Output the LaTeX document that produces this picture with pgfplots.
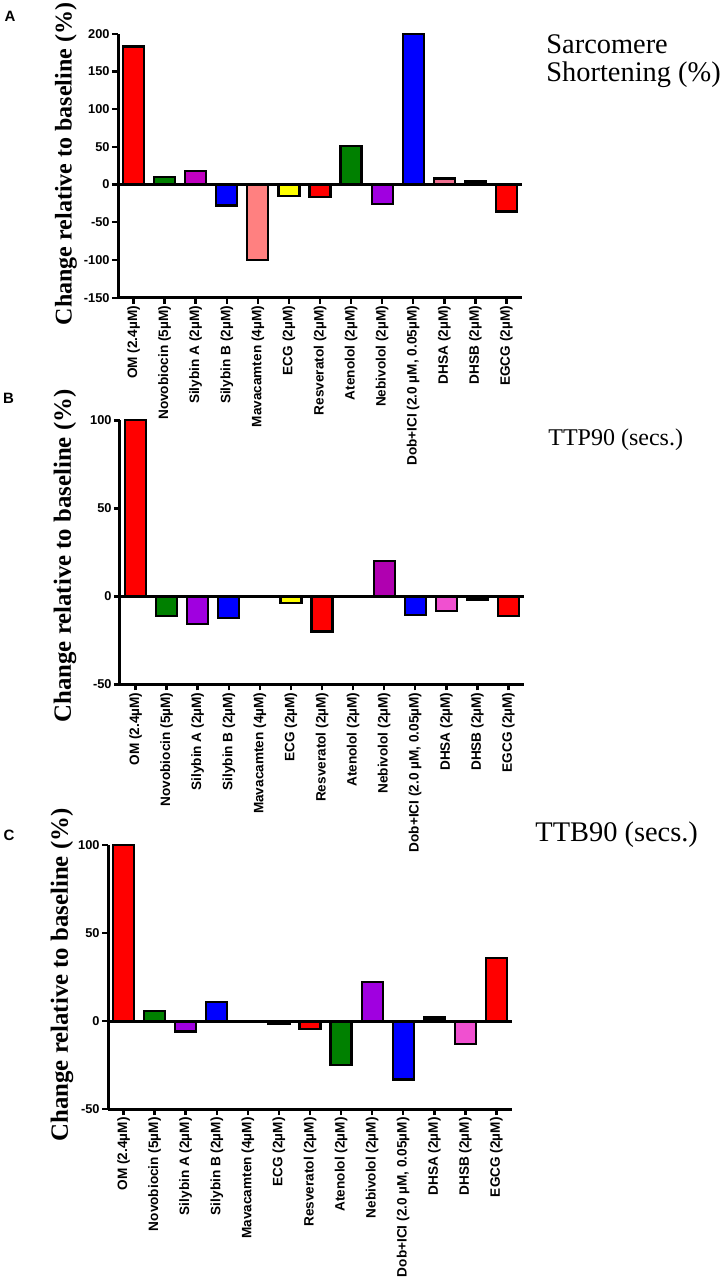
\documentclass[border=0pt]{standalone}
\usepackage{fontspec}
\setmainfont{Liberation Serif}
\setsansfont{Liberation Sans}
\usepackage{pgfplots}
\pgfplotsset{compat=1.18}

\definecolor{cred}{HTML}{FF0000}
\definecolor{cgreen}{HTML}{008000}
\definecolor{cmag}{HTML}{C000C0}
\definecolor{cviolet}{HTML}{A000E0}
\definecolor{cblue}{HTML}{0000FF}
\definecolor{csalmon}{HTML}{FF8080}
\definecolor{cyellow}{HTML}{FFFF00}
\definecolor{cpinkA}{HTML}{F07090}
\definecolor{cpink}{HTML}{F050D0}
\definecolor{cmagB}{HTML}{B000B0}

\pgfplotsset{
  panel/.style={
    scale only axis, width=202pt, height=132pt,
    axis lines*=left, axis line style={line width=1.5pt},
    xmin=-0.5, xmax=12.5, enlargelimits=false,
    xtick={0,...,12},
    xticklabels={OM (2.4µM), Novobiocin (5µM), Silybin A (2µM), Silybin B (2µM), Mavacamten (4µM), ECG (2µM), Resveratol (2µM), Atenolol (2µM), Nebivolol (2µM), {Dob+ICI (2.0 µM, 0.05µM)}, DHSA (2µM), DHSB (2µM), EGCG (2µM)},
    tick align=outside, major tick length=3pt,
    tick style={line width=1.2pt, black},
    xticklabel style={rotate=90, anchor=east, font=\sffamily\bfseries\fontsize{6.8}{8}\selectfont, inner sep=1pt},
    yticklabel style={font=\sffamily\bfseries\fontsize{6.4}{8}\selectfont, inner sep=1pt},
    clip=false,
  },
  bb/.style={ybar, bar width=10.5pt, bar shift=0pt, draw=black, line width=1.1pt, fill=#1},
  zl/.style={black, line width=1.5pt, forget plot},
}

\begin{document}
\begin{tikzpicture}
\useasboundingbox (0,0) rectangle (363pt,-643pt);

% Panel A
\begin{axis}[panel, at={(59pt,-148.85pt)}, anchor=south west,
  ymin=-150, ymax=200, ytick={-150,-100,-50,0,50,100,150,200},
  yticklabels={-150,-100,-50,0,50,100,150,200}]
\addplot[bb=cred] coordinates {(0,183)};
\addplot[bb=cgreen] coordinates {(1,10)};
\addplot[bb=cmag] coordinates {(2,18.5)};
\addplot[bb=cblue] coordinates {(3,-27.7)};
\addplot[bb=csalmon] coordinates {(4,-100)};
\addplot[bb=cyellow] coordinates {(5,-15.5)};
\addplot[bb=cred] coordinates {(6,-17)};
\addplot[bb=cgreen] coordinates {(7,51)};
\addplot[bb=cviolet] coordinates {(8,-25.6)};
\addplot[bb=cblue] coordinates {(9,200)};
\addplot[bb=cpinkA] coordinates {(10,8)};
\addplot[bb=black] coordinates {(11,4)};
\addplot[bb=cred] coordinates {(12,-35.7)};
\addplot[zl] coordinates {(-0.5,0) (12.5,0)};
\end{axis}

% Panel B
\begin{axis}[panel, at={(60pt,-342.15pt)}, anchor=south west,
  ymin=-50, ymax=100, ytick={-50,0,50,100},
  yticklabels={-50,0,50,100}]
\addplot[bb=cred] coordinates {(0,100)};
\addplot[bb=cgreen] coordinates {(1,-11)};
\addplot[bb=cviolet] coordinates {(2,-15.7)};
\addplot[bb=cblue] coordinates {(3,-12.3)};
\addplot[bb=cyellow] coordinates {(5,-3.8)};
\addplot[bb=cred] coordinates {(6,-20)};
\addplot[bb=cmagB] coordinates {(8,20)};
\addplot[bb=cblue] coordinates {(9,-10.4)};
\addplot[bb=cpink] coordinates {(10,-8.5)};
\addplot[bb=black] coordinates {(11,-2)};
\addplot[bb=cred] coordinates {(12,-11)};
\addplot[zl] coordinates {(-0.5,0) (12.5,0)};
\end{axis}

% Panel C
\begin{axis}[panel, at={(54pt,-554.5pt)}, anchor=south west,
  ymin=-50, ymax=100, ytick={-50,0,50,100},
  yticklabels={-50,0,50,100}]
\addplot[bb=cred] coordinates {(0,100)};
\addplot[bb=cgreen] coordinates {(1,5.5)};
\addplot[bb=cviolet] coordinates {(2,-6)};
\addplot[bb=cblue] coordinates {(3,10.6)};
\addplot[bb=black] coordinates {(5,-1.7)};
\addplot[bb=cred] coordinates {(6,-4.5)};
\addplot[bb=cgreen] coordinates {(7,-24.8)};
\addplot[bb=cviolet] coordinates {(8,22.2)};
\addplot[bb=cblue] coordinates {(9,-33.2)};
\addplot[bb=black] coordinates {(10,2)};
\addplot[bb=cpink] coordinates {(11,-12.9)};
\addplot[bb=cred] coordinates {(12,35.7)};
\addplot[zl] coordinates {(-0.5,0) (12.5,0)};
\end{axis}

% y labels
\node[rotate=90, font=\bfseries\fontsize{12}{14}\selectfont] at (33pt,-82pt) {Change relative to baseline (\%)};
\node[rotate=90, font=\bfseries\fontsize{12.4}{14}\selectfont] at (32.5pt,-278pt) {Change relative to baseline (\%)};
\node[rotate=90, font=\bfseries\fontsize{12.4}{14}\selectfont] at (31pt,-487.5pt) {Change relative to baseline (\%)};

% panel letters
\node[font=\sffamily\bfseries\fontsize{7.5}{8}\selectfont] at (5pt,-8pt) {A};
\node[font=\sffamily\bfseries\fontsize{7.5}{8}\selectfont] at (4.25pt,-199pt) {B};
\node[font=\sffamily\bfseries\fontsize{7.5}{8}\selectfont] at (4.5pt,-417.5pt) {C};

% titles
\node[anchor=base west, font=\fontsize{14.2}{14}\selectfont, inner sep=0pt] at (273pt,-26.5pt) {Sarcomere};
\node[anchor=base west, font=\fontsize{14.2}{14}\selectfont, inner sep=0pt] at (273pt,-40.5pt) {Shortening (\%)};
\node[anchor=base west, font=\fontsize{12}{14}\selectfont, inner sep=0pt] at (274pt,-222.5pt) {TTP90 (secs.)};
\node[anchor=base west, font=\fontsize{14.2}{14}\selectfont, inner sep=0pt] at (267.5pt,-420.8pt) {TTB90 (secs.)};
\end{tikzpicture}
\end{document}
